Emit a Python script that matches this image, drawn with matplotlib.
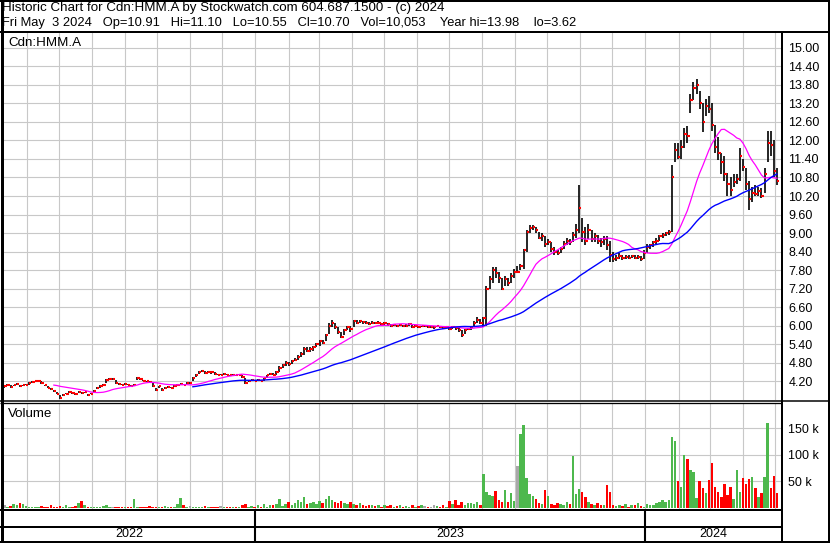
import numpy as np
import pandas as pd
import matplotlib
matplotlib.use('Agg')
import matplotlib.pyplot as plt
import matplotlib.dates as mdates
from matplotlib.lines import Line2D

plt.rcParams['font.family'] = ['Liberation Sans', 'DejaVu Sans']

# Data (one bar ~ two trading days)
close = [
    4.05, 4.10, 4.02, 4.08, 4.12, 4.05, 4.08, 4.10, 4.15, 4.18,
    4.20, 4.22, 4.15, 4.07, 4.00, 3.95, 3.88, 3.80, 3.68, 3.75,
    3.80, 3.85, 3.83, 3.78, 3.85, 3.82, 3.85, 3.75, 3.80, 3.90,
    4.00, 4.05, 4.10, 4.25, 4.28, 4.28, 4.15, 4.12, 4.10, 4.12,
    4.10, 4.05, 4.10, 4.30, 4.28, 4.22, 4.20, 4.18, 4.05, 3.92,
    4.05, 3.93, 4.00, 4.02, 4.00, 4.05, 4.10, 4.12, 4.10, 4.15,
    4.15, 4.30, 4.42, 4.50, 4.55, 4.48, 4.52, 4.50, 4.45, 4.42,
    4.42, 4.45, 4.42, 4.40, 4.42, 4.40, 4.42, 4.35, 4.15, 4.22,
    4.25, 4.22, 4.25, 4.22, 4.30, 4.40, 4.45, 4.42, 4.50, 4.65,
    4.72, 4.80, 4.75, 4.85, 4.90, 5.00, 5.10, 5.25, 5.20, 5.25,
    5.30, 5.40, 5.50, 5.45, 5.70, 6.00, 6.10, 5.95, 5.80, 5.65,
    5.85, 5.95, 5.90, 6.15, 6.10, 6.15, 6.12, 6.10, 6.05, 6.10,
    6.08, 6.10, 6.05, 6.10, 6.05, 6.00, 6.02, 5.98, 6.02, 5.98,
    6.00, 6.05, 5.95, 6.00, 5.95, 5.98, 5.98, 5.95, 5.95, 5.95,
    5.98, 5.95, 5.92, 5.95, 5.90, 5.95, 5.92, 5.85, 5.70, 5.85,
    5.90, 5.95, 6.10, 6.20, 6.10, 6.25, 7.20, 7.50, 7.80, 7.70,
    7.55, 7.20, 7.50, 7.40, 7.60, 7.75, 7.75, 7.95, 8.45, 9.05,
    9.15, 9.20, 9.10, 8.85, 8.90, 8.65, 8.70, 8.50, 8.40, 8.35,
    8.50, 8.65, 8.75, 8.70, 8.95, 9.10, 9.80, 9.05, 8.75, 9.10,
    8.80, 8.90, 8.75, 8.70, 8.80, 8.60, 8.30, 8.15, 8.20, 8.25,
    8.20, 8.22, 8.20, 8.25, 8.20, 8.22, 8.15, 8.35, 8.55, 8.60,
    8.70, 8.75, 8.90, 8.95, 9.00, 9.05, 10.80, 11.70, 11.45, 11.80,
    12.20, 12.15, 13.30, 13.70, 13.80, 13.20, 12.60, 13.10, 13.00, 12.50,
    11.80, 11.60, 11.30, 10.90, 10.60, 10.40, 10.65, 10.75, 11.50, 11.15,
    10.60, 10.10, 10.30, 10.25, 10.35, 10.20, 10.90, 11.90, 11.85, 11.00,
    10.70]

high = [
    4.10, 4.12, 4.08, 4.10, 4.15, 4.10, 4.10, 4.12, 4.18, 4.20,
    4.22, 4.25, 4.22, 4.10, 4.05, 4.00, 3.92, 3.85, 3.75, 3.78,
    3.82, 3.88, 3.85, 3.82, 3.88, 3.85, 3.85, 3.80, 3.82, 3.92,
    4.02, 4.08, 4.12, 4.28, 4.30, 4.30, 4.25, 4.15, 4.12, 4.15,
    4.12, 4.10, 4.12, 4.35, 4.32, 4.25, 4.22, 4.20, 4.15, 3.98,
    4.05, 3.98, 4.02, 4.05, 4.02, 4.08, 4.12, 4.15, 4.12, 4.18,
    4.18, 4.35, 4.45, 4.55, 4.58, 4.55, 4.55, 4.52, 4.50, 4.45,
    4.45, 4.48, 4.45, 4.42, 4.45, 4.42, 4.45, 4.42, 4.30, 4.25,
    4.28, 4.25, 4.28, 4.25, 4.32, 4.42, 4.48, 4.48, 4.55, 4.70,
    4.75, 4.85, 4.82, 4.90, 4.95, 5.05, 5.15, 5.30, 5.30, 5.30,
    5.35, 5.45, 5.55, 5.55, 5.75, 6.10, 6.20, 6.10, 5.95, 5.80,
    5.90, 6.00, 6.00, 6.20, 6.20, 6.20, 6.15, 6.15, 6.12, 6.15,
    6.12, 6.15, 6.10, 6.12, 6.10, 6.05, 6.05, 6.02, 6.05, 6.02,
    6.05, 6.08, 6.05, 6.02, 6.00, 6.00, 6.02, 6.00, 5.98, 5.98,
    6.00, 5.98, 5.95, 5.98, 5.95, 5.98, 5.95, 5.92, 5.85, 5.90,
    5.92, 6.00, 6.15, 6.30, 6.22, 6.30, 7.30, 7.60, 7.90, 7.90,
    7.75, 7.55, 7.60, 7.55, 7.70, 7.85, 7.95, 8.00, 8.50, 9.10,
    9.25, 9.25, 9.20, 9.05, 9.00, 8.90, 8.80, 8.70, 8.55, 8.45,
    8.55, 8.75, 8.85, 8.80, 9.05, 9.30, 10.55, 9.50, 9.20, 9.30,
    9.10, 9.00, 8.95, 8.85, 8.90, 8.90, 8.75, 8.40, 8.30, 8.35,
    8.30, 8.30, 8.28, 8.30, 8.28, 8.30, 8.25, 8.45, 8.65, 8.65,
    8.75, 8.85, 8.95, 9.00, 9.05, 9.10, 11.20, 11.90, 11.90, 12.00,
    12.40, 12.45, 13.50, 13.90, 13.98, 13.60, 13.20, 13.35, 13.45, 13.20,
    12.50, 12.10, 11.60, 11.50, 10.95, 10.80, 10.90, 10.90, 11.75, 11.40,
    11.10, 10.70, 10.50, 10.55, 10.50, 10.45, 11.10, 12.30, 12.30, 12.00,
    11.10]

low = [
    4.00, 4.05, 4.00, 4.05, 4.08, 4.02, 4.05, 4.08, 4.10, 4.15,
    4.18, 4.20, 4.12, 4.05, 3.98, 3.92, 3.85, 3.78, 3.62, 3.72,
    3.78, 3.82, 3.80, 3.75, 3.82, 3.80, 3.82, 3.72, 3.78, 3.85,
    3.95, 4.00, 4.05, 4.15, 4.25, 4.25, 4.12, 4.10, 4.08, 4.10,
    4.08, 4.02, 4.05, 4.25, 4.25, 4.20, 4.18, 4.15, 4.02, 3.90,
    4.00, 3.90, 3.95, 4.00, 3.98, 4.02, 4.05, 4.10, 4.08, 4.12,
    4.12, 4.20, 4.35, 4.45, 4.50, 4.45, 4.48, 4.45, 4.42, 4.40,
    4.40, 4.42, 4.40, 4.38, 4.40, 4.38, 4.40, 4.30, 4.12, 4.18,
    4.20, 4.20, 4.22, 4.20, 4.22, 4.30, 4.40, 4.40, 4.42, 4.50,
    4.65, 4.70, 4.70, 4.75, 4.85, 4.90, 5.00, 5.05, 5.15, 5.15,
    5.20, 5.30, 5.35, 5.40, 5.50, 5.75, 5.95, 5.90, 5.75, 5.60,
    5.70, 5.85, 5.80, 5.95, 6.05, 6.10, 6.05, 6.05, 6.02, 6.05,
    6.05, 6.05, 6.00, 6.02, 6.00, 5.95, 5.98, 5.95, 5.98, 5.95,
    5.95, 6.00, 5.92, 5.95, 5.92, 5.95, 5.95, 5.92, 5.92, 5.90,
    5.95, 5.92, 5.90, 5.92, 5.85, 5.90, 5.88, 5.80, 5.65, 5.75,
    5.85, 5.88, 5.95, 6.10, 6.05, 5.95, 6.00, 7.20, 7.40, 7.55,
    7.40, 7.15, 7.30, 7.30, 7.40, 7.55, 7.70, 7.80, 7.85, 8.40,
    9.00, 9.10, 9.00, 8.80, 8.75, 8.55, 8.60, 8.40, 8.30, 8.30,
    8.35, 8.50, 8.60, 8.60, 8.70, 8.85, 9.00, 8.70, 8.60, 8.80,
    8.70, 8.70, 8.65, 8.55, 8.60, 8.45, 8.05, 8.05, 8.10, 8.15,
    8.12, 8.15, 8.15, 8.18, 8.15, 8.15, 8.10, 8.15, 8.35, 8.50,
    8.55, 8.65, 8.75, 8.85, 8.90, 8.95, 9.05, 11.30, 11.40, 11.40,
    11.75, 11.90, 12.90, 13.30, 13.50, 13.00, 12.26, 12.80, 12.90, 12.30,
    11.60, 11.35, 10.90, 10.70, 10.20, 10.20, 10.50, 10.60, 10.70, 11.00,
    10.40, 9.75, 10.00, 10.20, 10.20, 10.15, 10.30, 11.30, 11.50, 10.80,
    10.55]

# volume in thousands of shares
volume_k = [
    5, 3, 4, 8, 6, 10, 7, 4, 3, 2,
    3, 2, 4, 3, 2, 5, 3, 2, 4, 3,
    6, 3, 2, 4, 10, 13, 5, 3, 2, 2,
    3, 2, 4, 5, 3, 2, 3, 2, 3, 2,
    2, 3, 18, 3, 2, 3, 2, 4, 3, 2,
    3, 2, 4, 3, 2, 3, 8, 19, 6, 3,
    4, 3, 2, 3, 2, 4, 3, 2, 2, 3,
    4, 3, 2, 3, 2, 3, 2, 6, 8, 3,
    4, 3, 5, 2, 8, 3, 6, 5, 8, 18,
    4, 8, 12, 6, 10, 16, 12, 20, 8, 10,
    12, 8, 14, 10, 18, 22, 16, 12, 9, 14,
    10, 8, 12, 7, 6, 9, 5, 4, 6, 5,
    4, 5, 3, 6, 4, 5, 3, 4, 6, 3,
    4, 3, 5, 3, 4, 6, 4, 3, 2, 5,
    4, 3, 5, 3, 13, 7, 15, 5, 12, 6,
    9, 10, 8, 11, 6, 64, 30, 25, 22, 33,
    15, 12, 34, 12, 28, 14, 79, 138, 155, 57,
    26, 22, 18, 10, 8, 34, 22, 8, 6, 10,
    8, 6, 12, 8, 98, 26, 36, 30, 20, 12,
    8, 6, 10, 5, 6, 43, 31, 6, 4, 5,
    4, 8, 3, 6, 5, 10, 4, 3, 8, 6,
    5, 10, 12, 15, 12, 15, 134, 125, 50, 40,
    100, 92, 71, 67, 19, 50, 38, 28, 53, 85,
    40, 30, 20, 45, 25, 40, 18, 71, 30, 56,
    45, 55, 58, 38, 20, 28, 58, 160, 38, 60,
    28]

price_ticks = [4.20, 4.80, 5.40, 6.00, 6.60, 7.20, 7.80, 8.40, 9.00, 9.60,
               10.20, 10.80, 11.40, 12.00, 12.60, 13.20, 13.80, 14.40, 15.00]
vol_ticks = [50000, 100000, 150000]
vol_tick_labels = ['50 k', '100 k', '150 k']
years = ['2022', '2023', '2024']

title1 = 'Historic Chart for Cdn:HMM.A by Stockwatch.com 604.687.1500 - (c) 2024'
title2 = ('Fri May  3 2024   Op=10.91   Hi=11.10   Lo=10.55   Cl=10.70   '
          'Vol=10,053    Year hi=13.98    lo=3.62')

close = np.array(close)
high = np.array(high)
low = np.array(low)
vol = np.array(volume_k) * 1000.0

dates = pd.date_range('2022-05-11', '2024-05-03', periods=len(close))
xd = mdates.date2num(dates)
step = xd[1] - xd[0]

# moving averages
ma_pink = pd.Series(close).rolling(17).mean().values
ma_blue = pd.Series(close).rolling(45).mean().values
ma_blue[:61] = np.nan

diff = np.diff(close, prepend=close[0])
vcol = np.where(diff > 0, '#4db84d', np.where(diff < 0, '#ff0000', '#a8a8a8'))

y2023 = mdates.date2num(pd.Timestamp('2023-01-01'))
y2024 = mdates.date2num(pd.Timestamp('2024-01-01'))
xlim = (y2023 - 236.3, y2024 + 127.75)
months = mdates.date2num(pd.date_range('2022-06-01', '2024-05-01', freq='MS'))

W, H = 830, 543
fig = plt.figure(figsize=(W / 100, H / 100), dpi=100)


def box(x0, y0, x1, y1):
    return [x0 / W, 1 - y1 / H, (x1 - x0) / W, (y1 - y0) / H]


def fline(x0, y0, x1, y1, px):
    fig.add_artist(Line2D([x0 / W, x1 / W], [1 - y0 / H, 1 - y1 / H],
                          transform=fig.transFigure, color='black',
                          lw=px * 0.72, solid_capstyle='butt'))


grid_kw = dict(color='#c8c8c8', lw=0.8)

# price panel
ax = fig.add_axes(box(3, 33, 782, 400))
ax.set_xlim(*xlim)
ax.set_ylim(3.60, 15.475)
ax.set_xticks(months)
ax.set_yticks(price_ticks)
ax.set_yticklabels([f'{v:.2f}' for v in price_ticks])
ax.yaxis.tick_right()
ax.tick_params(axis='y', length=0, pad=4.5, labelsize=9)
ax.tick_params(axis='x', length=0, labelbottom=False)
ax.grid(True, **grid_kw)
ax.set_axisbelow(True)
for s in ax.spines.values():
    s.set_visible(False)

ax.vlines(xd, low, high, color='black', lw=1.2)
ax.hlines(close, xd, xd + 0.75 * step, color='red', lw=1.5)
ax.plot(xd, ma_pink, color='#ff00ff', lw=0.9)
ax.plot(xd, ma_blue, color='#0000ff', lw=1.0)
ax.text(0.0065, 0.973, 'Cdn:HMM.A', transform=ax.transAxes, fontsize=9.6,
        va='center', ha='left')

# volume panel
av = fig.add_axes(box(3, 403, 782, 509.5))
av.set_xlim(*xlim)
av.set_ylim(-2500, 197000)
av.set_xticks(months)
av.set_yticks(vol_ticks)
av.set_yticklabels(vol_tick_labels)
av.yaxis.tick_right()
av.tick_params(axis='y', length=0, pad=4.5, labelsize=9)
av.tick_params(axis='x', length=0, labelbottom=False)
av.grid(True, **grid_kw)
av.set_axisbelow(True)
for s in av.spines.values():
    s.set_visible(False)
av.bar(xd, vol, width=0.8 * step, color=vcol, linewidth=0)
av.text(0.0065, 0.9, 'Volume', transform=av.transAxes, fontsize=9.6,
        va='center', ha='left')

# date strip
ad = fig.add_axes(box(3, 509.5, 782, 541))
ad.set_xlim(*xlim)
ad.set_ylim(0, 31.5)
ad.axis('off')
for xb in (y2023, y2024):
    ad.axvline(xb, color='black', lw=1.5)
mids = [(xlim[0] + y2023) / 2, (y2023 + y2024) / 2, (y2024 + xlim[1]) / 2]
for xm, yr in zip(mids, years):
    ad.text(xm, 7, yr, fontsize=9, ha='center', va='center')

# frame lines
fline(0, 1, W, 1, 2)
fline(0, 31.5, W, 31.5, 2)
fline(1.5, 0, 1.5, H, 3)
fline(829, 0, 829, H, 2)
fline(782, 31.5, 782, H, 2)
fline(0, 400.5, W, 400.5, 1.5)
fline(0, 403.3, 782, 403.3, 1.3)
fline(0, 509.5, 782, 509.5, 2)
fline(0, 527, 782, 527, 2)
fline(0, 542, W, 542, 2)

fig.text(2 / W, 1 - 8 / H, title1, fontsize=9.6, va='center', ha='left')
fig.text(2 / W, 1 - 23 / H, title2, fontsize=9.3, va='center', ha='left')

fig.savefig('out.png', dpi=100)
